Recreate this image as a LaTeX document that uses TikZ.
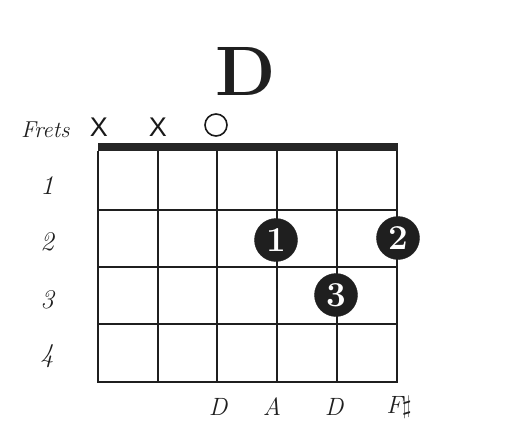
\documentclass[tikz,border=0pt]{standalone}
\usepackage{fontspec}
\newfontfamily\sansx{Liberation Sans}
\begin{document}
\begin{tikzpicture}[x=1pt,y=-1pt,
  gridline/.style={line width=1.4pt,draw=black!88},
  fingerdot/.style={circle,fill=black!88,draw=black!88,minimum size=43pt,inner sep=0pt,text=white,font=\fontsize{35}{35}\selectfont\bfseries},
  fretnum/.style={font=\fontsize{27}{27}\selectfont\itshape,text=black!88},
  notelbl/.style={font=\fontsize{25}{25}\selectfont\itshape,text=black!88},
  mutemark/.style={font=\sansx\fontsize{27}{27}\selectfont,text=black!90,inner sep=0pt}]
\useasboundingbox (0,0) rectangle (511,441);
% nut
\fill[black!85] (98,143) rectangle (398,151);
% strings
\foreach \x in {98,158,217,277,337,397}
  \draw[gridline] (\x,151) -- (\x,382);
% frets
\foreach \y in {210,267,324,382}
  \draw[gridline] (97.3,\y) -- (397.7,\y);
% title
\node[font=\fontsize{70}{70}\selectfont\bfseries,text=black!88] (title) at (246,71) {D};
% string marks
\node[mutemark] (m1) at (99,127) {X};
\node[mutemark] (m2) at (158,127) {X};
\node[circle,draw=black!90,line width=1.6pt,minimum size=22pt,inner sep=0pt] (o3) at (216,125) {};
% labels
\node[font=\fontsize{23}{23}\selectfont\itshape,text=black!88,anchor=base east] (frets) at (73,137) {Frets};
\node[fretnum] (f1) at (47,186) {1};
\node[fretnum] (f2) at (47,242) {2};
\node[fretnum] (f3) at (47,300) {3};
\node[fretnum] (f4) at (47,356) {4};
% fingers
\node[fingerdot] (d1) at (276,240) {1};
\node[fingerdot] (d2) at (398,238) {2};
\node[fingerdot] (d3) at (336,295) {3};
% notes
\node[notelbl] (n1) at (218,407) {D};
\node[notelbl] (n2) at (272,407) {A};
\node[notelbl] (n3) at (334,407) {D};
\node[notelbl] (n4) at (399,407) {F$\sharp$};
\end{tikzpicture}
\end{document}
